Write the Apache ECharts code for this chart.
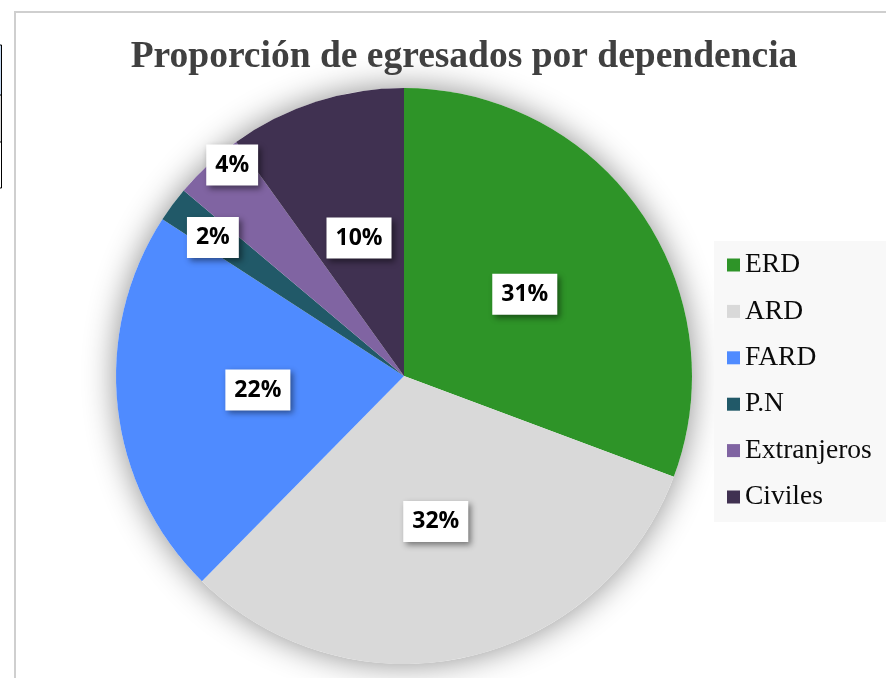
<!DOCTYPE html>
<html>
<head>
<meta charset="utf-8">
<script src="https://cdn.jsdelivr.net/npm/echarts@6/dist/echarts.min.js"></script>
<style>
  html, body { margin: 0; padding: 0; background: #fff; }
  #chart { width: 886px; height: 678px; }
</style>
</head>
<body>
<div id="chart"></div>
<script>
// datos
var categories = ['ERD', 'ARD', 'FARD', 'P.N', 'Extranjeros', 'Civiles'];
var shares = [31, 32, 22, 2, 4, 10];
var colors = ['#2e9428', '#d9d9d9', '#4f8bff', '#215968', '#8064a2', '#403151'];
// desplazamiento manual de etiquetas (como en el original)
var labelOffsets = [[0, 2], [0, 2], [0, -2], [-73, -51], [-72, -103], [0, 2]];

var chart = echarts.init(document.getElementById('chart'));

var pieData = categories.map(function (name, i) {
  return { name: name, value: shares[i], itemStyle: { color: colors[i] } };
});

var option = {
  backgroundColor: '#fff',
  animation: false,
  title: {
    text: 'Proporción de egresados por dependencia',
    left: 459,
    top: 33,
    textAlign: 'center',
    textStyle: {
      fontFamily: 'Liberation Serif',
      fontWeight: 'bold',
      fontSize: 37.5,
      color: '#404040'
    }
  },
  legend: {
    orient: 'vertical',
    left: 714,
    top: 241,
    width: 172,
    padding: [10, 40, 11, 13],
    backgroundColor: '#f8f8f8',
    itemWidth: 13,
    itemHeight: 13,
    itemGap: 18.4,
    itemTextGap: 7,
    icon: 'rect',
    data: categories,
    textStyle: {
      fontFamily: 'Liberation Serif',
      fontSize: 27.5,
      lineHeight: 28,
      color: '#0a0a0a'
    }
  },
  graphic: [
    // marco del grafico
    { type: 'polyline', shape: { points: [[15, 678], [15, 12], [886, 12]] },
      style: { stroke: '#cfcfcf', lineWidth: 2, fill: null } },
    // resto de la tabla a la izquierda
    { type: 'rect', shape: { x: 0, y: 45, width: 1, height: 50 }, style: { fill: '#c5d9f1' } },
    { type: 'rect', shape: { x: 0, y: 95, width: 1, height: 47 }, style: { fill: '#d9d9d9' } },
    { type: 'polyline', shape: { points: [[0, 45], [1.5, 45], [1.5, 188], [0, 188]] },
      style: { stroke: '#000', lineWidth: 1, fill: null } },
    { type: 'line', shape: { x1: 0, y1: 95, x2: 2, y2: 95 }, style: { stroke: '#000', lineWidth: 1 } },
    { type: 'line', shape: { x1: 0, y1: 142, x2: 2, y2: 142 }, style: { stroke: '#000', lineWidth: 1 } }
  ],
  series: [
    {
      // sombra del pastel
      type: 'pie',
      silent: true,
      center: [404, 376],
      radius: 288,
      label: { show: false },
      labelLine: { show: false },
      itemStyle: {
        color: '#fff',
        shadowBlur: 32,
        shadowColor: 'rgba(0,0,0,0.45)'
      },
      data: [{ name: 'sombra', value: 1 }],
      z: 1
    },
    {
      type: 'pie',
      name: 'Dependencia',
      center: [404, 376],
      radius: 288,
      startAngle: 90,
      clockwise: true,
      z: 2,
      label: {
        show: true,
        position: 'inside',
        formatter: '{c}%',
        fontFamily: 'Open Sans',
        fontWeight: 'bold',
        fontSize: 23,
        lineHeight: 25,
        color: '#000',
        backgroundColor: '#fff',
        padding: [8, 9, 8, 9],
        shadowColor: 'rgba(0,0,0,0.45)',
        shadowBlur: 6,
        shadowOffsetX: 3,
        shadowOffsetY: 3
      },
      labelLayout: function (params) {
        var o = labelOffsets[params.dataIndex];
        return { dx: o[0], dy: o[1] };
      },
      data: pieData
    }
  ]
};

chart.setOption(option);
</script>
</body>
</html>
